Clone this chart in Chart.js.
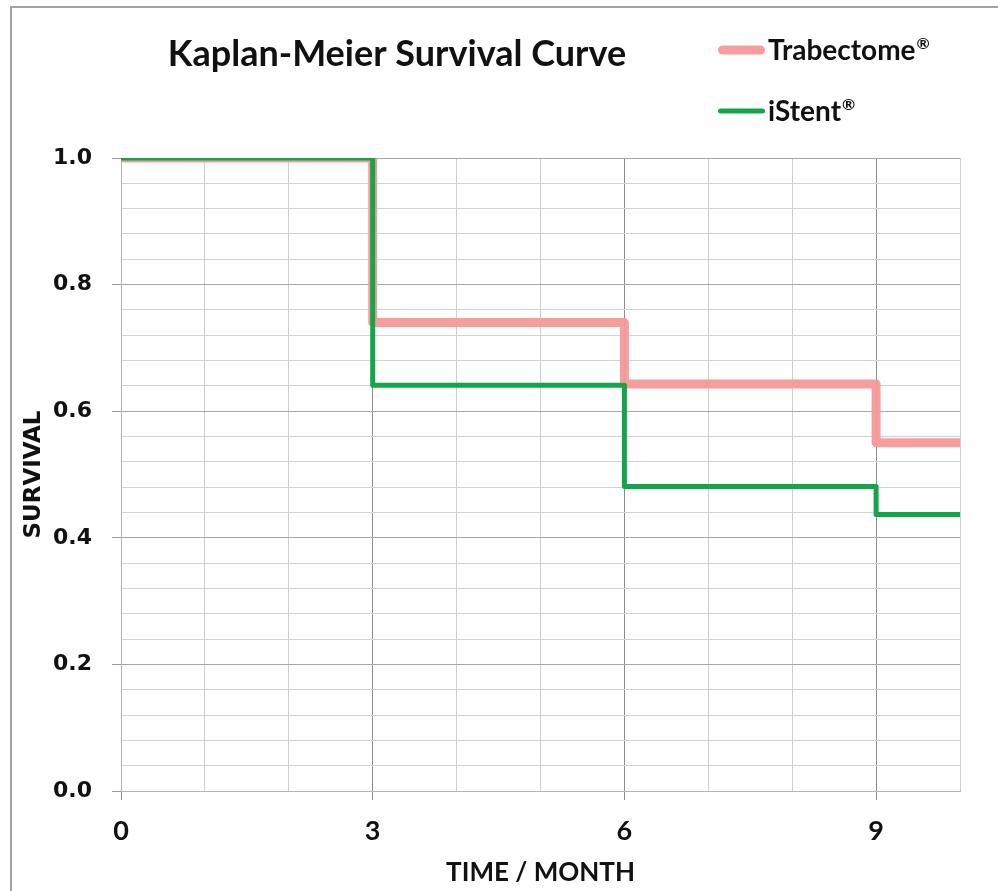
<!DOCTYPE html>
<html>
<head>
<meta charset="utf-8">
<script src="https://cdn.jsdelivr.net/npm/chart.js@4/dist/chart.umd.min.js"></script>
<style>
  html, body { margin: 0; padding: 0; background: #ffffff; }
  #wrap { position: relative; width: 998px; height: 891px; overflow: hidden; background: #fff; }
  #frame { position: absolute; left: 10px; top: 6px; width: 1100px; height: 1000px;
           border-left: 2px solid #a2a2a2; border-top: 2px solid #a2a2a2; pointer-events: none; }
  canvas { position: absolute; left: 0; top: 0; }
</style>
</head>
<body>
<div id="wrap">
  <canvas id="c" width="998" height="891"></canvas>
  <div id="frame"></div>
</div>
<script>
// ---- Data ----
const chartTitle = "Kaplan-Meier Survival Curve";
const seriesNames = ["Trabectome", "iStent"];
const months = [0, 3, 6, 9, 10];
const trabectomeSurvival = [1.0, 0.74, 0.643, 0.55, 0.55];
const istentSurvival = [1.0, 0.641, 0.481, 0.437, 0.437];
const xTickLabels = [0, 3, 6, 9];
const yTickLabels = [0.0, 0.2, 0.4, 0.6, 0.8, 1.0];
const xAxisTitle = "TIME / MONTH";
const yAxisTitle = "SURVIVAL";

// ---- Styles ----
const trabColor = "rgba(245,152,152,0.95)";
const istentColor = "#14a54a";

const toPoints = (ys) => months.map((m, i) => ({ x: m, y: ys[i] }));
const isMajorY = (v) => yTickLabels.some(t => Math.abs(t - v) < 1e-6);
const isMajorX = (v) => xTickLabels.includes(v);

const overlay = {
  id: 'overlay',
  afterDraw(chart) {
    const ctx = chart.ctx;
    ctx.save();
    ctx.fillStyle = '#111';
    ctx.font = 'bold 36px Lato';
    ctx.textAlign = 'center';
    ctx.textBaseline = 'alphabetic';
    ctx.fillText(chartTitle, 397, 66);

    const legend = [
      { name: seriesNames[0], color: trabColor, width: 9, y: 50 },
      { name: seriesNames[1], color: istentColor, width: 5, y: 111 }
    ];
    legend.forEach(l => {
      ctx.strokeStyle = l.color;
      ctx.lineWidth = l.width;
      ctx.lineCap = 'round';
      ctx.beginPath();
      ctx.moveTo(718 + l.width / 2, l.y);
      ctx.lineTo(765 - l.width / 2, l.y);
      ctx.stroke();
      ctx.fillStyle = '#111';
      ctx.font = 'bold 28px Lato';
      ctx.textAlign = 'left';
      ctx.textBaseline = 'alphabetic';
      ctx.fillText(l.name, 768, l.y + 10);
      const w = ctx.measureText(l.name).width;
      ctx.font = 'bold 16px Lato';
      ctx.fillText('\u00AE', 768 + w + 1, l.y - 1);
    });
    ctx.restore();
  }
};

new Chart(document.getElementById('c'), {
  type: 'line',
  data: {
    datasets: [
      {
        label: seriesNames[0],
        data: toPoints(trabectomeSurvival),
        borderColor: trabColor,
        backgroundColor: trabColor,
        borderWidth: 9,
        stepped: 'before',
        pointRadius: 0,
        fill: false,
        order: 2,
        borderJoinStyle: 'round',
        borderCapStyle: 'butt'
      },
      {
        label: seriesNames[1],
        data: toPoints(istentSurvival),
        borderColor: istentColor,
        backgroundColor: istentColor,
        borderWidth: 5,
        stepped: 'before',
        pointRadius: 0,
        fill: false,
        order: 1,
        borderJoinStyle: 'round',
        borderCapStyle: 'butt'
      }
    ]
  },
  options: {
    responsive: false,
    animation: false,
    devicePixelRatio: 1,
    layout: { padding: { top: 158, right: 38, left: 0, bottom: 0 } },
    plugins: {
      legend: { display: false },
      title: { display: false },
      tooltip: { enabled: false }
    },
    scales: {
      x: {
        type: 'linear',
        min: 0,
        max: 10,
        afterFit(scale) { scale.height = 100; },
        ticks: {
          stepSize: 1,
          autoSkip: false,
          maxRotation: 0,
          padding: 15,
          color: '#111',
          font: { family: 'Lato', weight: 'bold', size: 27 },
          callback: (v) => isMajorX(v) ? String(v) : ''
        },
        grid: {
          color: (c) => isMajorX(c.tick.value) && c.tick.value !== 0 ? '#8c8c8c' : '#cfcfcf',
          tickColor: (c) => isMajorX(c.tick.value) ? '#8c8c8c' : 'rgba(0,0,0,0)',
          tickLength: 9,
          lineWidth: 1
        },
        border: { color: '#b5b5b5', width: 1 },
        title: {
          display: true,
          text: xAxisTitle,
          color: '#111',
          font: { family: 'Lato', weight: 'bold', size: 26 },
          padding: { top: 0, bottom: 3 }
        }
      },
      y: {
        type: 'linear',
        min: 0,
        max: 1,
        afterFit(scale) { scale.width = 121; },
        ticks: {
          stepSize: 0.04,
          autoSkip: false,
          padding: 20,
          color: '#111',
          font: { family: 'DejaVu Sans', weight: 'bold', size: 22 },
          callback: (v) => isMajorY(v) ? v.toFixed(1) : ''
        },
        grid: {
          color: (c) => isMajorY(c.tick.value) ? '#a8a8a8' : '#d2d2d2',
          tickColor: (c) => isMajorY(c.tick.value) ? '#9a9a9a' : 'rgba(0,0,0,0)',
          tickLength: 9,
          lineWidth: 1
        },
        border: { color: '#b5b5b5', width: 1 },
        title: {
          display: true,
          text: yAxisTitle,
          color: '#111',
          font: { family: 'DejaVu Sans', weight: 'bold', size: 23 },
          padding: { top: 20, bottom: 0 }
        }
      }
    }
  },
  plugins: [overlay]
});
</script>
</body>
</html>
